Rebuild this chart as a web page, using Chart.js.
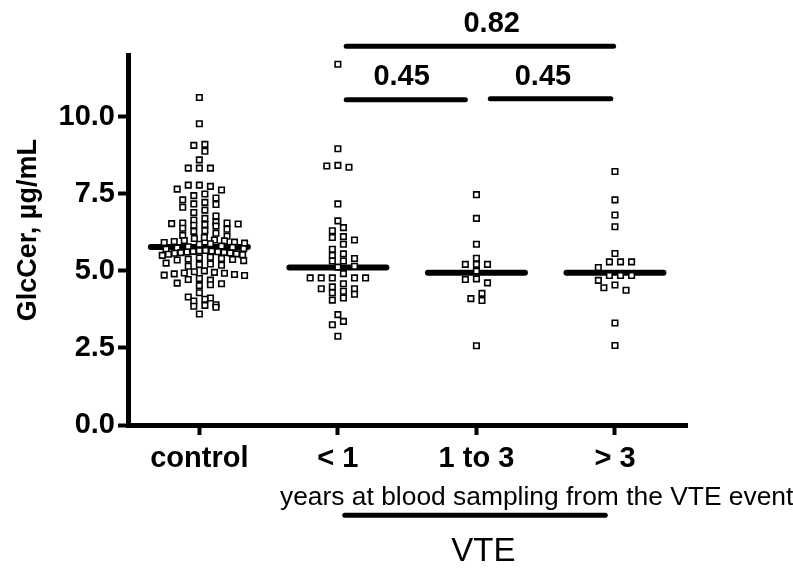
<!DOCTYPE html>
<html>
<head>
<meta charset="utf-8">
<script src="https://cdn.jsdelivr.net/npm/chart.js@4"></script>
<style>
  body { margin: 0; background: #fff; }
</style>
</head>
<body>
<canvas id="chart" width="793" height="570"></canvas>
<script>
const groups = ['control', '< 1', '1 to 3', '> 3']

// GlcCer, ug/mL per subject
const control = [
  10.62, 9.77, 9.10, 9.07, 8.88, 8.60, 8.33, 8.33, 8.33,
  7.78, 7.74, 7.78, 7.65, 7.62, 7.49, 7.44, 7.36, 7.30, 7.22, 7.17, 7.15, 7.06,
  6.97, 6.89, 6.78, 6.70, 6.65, 6.58,
  6.55, 6.52, 6.50, 6.55, 6.48, 6.53, 6.45,
  6.35, 6.30, 6.28, 6.38, 6.22,
  6.12, 6.08, 6.05, 6.15,
  5.98, 5.95, 5.92, 5.90, 5.97, 5.88, 5.93, 6.00, 5.86,
  5.80, 5.76, 5.74, 5.72, 5.78, 5.70,
  5.65, 5.62, 5.60, 5.58, 5.63, 5.55, 5.61, 5.57, 5.59, 5.64, 5.52, 5.54, 5.66, 5.50,
  5.42, 5.40, 5.38, 5.35, 5.44, 5.33, 5.37,
  5.22, 5.20, 5.18, 5.15, 5.25,
  4.95, 4.92, 4.90, 4.88, 4.85, 5.00, 4.97, 4.86, 4.93,
  4.75, 4.70, 4.72,
  4.58, 4.55, 4.60, 4.52,
  4.29, 4.12, 4.08, 4.15, 4.02,
  3.88, 3.85, 3.82, 3.90, 3.60
]
const under1 = [
  11.70, 8.96, 8.42, 8.36, 8.40, 7.17, 6.62, 6.40, 6.30, 6.08, 6.00, 6.11,
  5.86, 5.70, 5.50, 5.55, 5.40, 5.32, 5.32, 5.15, 5.12,
  4.91, 4.77, 4.77, 4.77, 4.77, 4.77, 4.58, 4.34, 4.42, 4.24, 4.42, 4.05,
  4.48, 4.12, 4.29, 3.58, 3.36, 3.25, 2.88
]
const oneTo3 = [7.47, 6.70, 5.86, 5.41, 5.21, 5.21, 5.21, 4.99, 4.74, 4.61, 4.72, 4.27, 4.10, 4.04, 2.57]
const over3 = [8.22, 7.30, 6.81, 6.43, 5.56, 5.29, 5.29, 5.29, 5.11, 4.85, 4.85, 4.85, 4.69, 4.54, 4.37, 4.45, 3.31, 2.58]
const medians = [5.77, 5.11, 4.94, 4.94]

const yTicks = [0, 2.5, 5, 7.5, 10]

// p value brackets between groups
const compFrom = [1.06, 1.06, 2.10]
const compTo = [2.99, 1.92, 2.97]
const compLevel = [12.28, 10.55, 10.58]
const compP = ['0.82', '0.45', '0.45']
const compLabelX = [2.11, 1.46, 2.48]
const compLabelY = [13.0, 11.28, 11.28]

const FONT = '"Liberation Sans", Arial, sans-serif'

// column scatter like Prism: bin into rows, spread each row, squeeze wide rows
function swarm(values, center) {
  const rowH = 0.2, step = 0.08, maxHalf = 0.29
  const sorted = [...values].sort((a, b) => b - a)
  const rows = []
  sorted.forEach(v => {
    const row = rows[rows.length - 1]
    if (row && row[0] - v < rowH) row.push(v)
    else rows.push([v])
  })
  const placed = []
  rows.forEach(row => {
    const n = row.length
    const gap = n > 1 ? Math.min(step, 2 * maxHalf / (n - 1)) : step
    // center-out slots so the row stays balanced
    const slots = row.map((v, j) => (j % 2 === 0 ? 1 : -1) * Math.ceil(j / 2))
    const lo = Math.min(...slots)
    const hi = Math.max(...slots)
    const shiftC = -(lo + hi) / 2
    let pts = row.map((v, j) => ({ x: center + (slots[j] + shiftC) * gap, y: v }))
    const clash = pts.some(p => placed.some(q => Math.abs(q.x - p.x) < gap * 0.7 && Math.abs(q.y - p.y) < rowH))
    if (clash) pts = pts.map(p => ({ x: p.x + gap / 2, y: p.y }))
    placed.push(...pts)
  })
  return placed
}

function segment(x1, x2, yv, width) {
  return {
    type: 'line',
    data: [{ x: x1, y: yv }, { x: x2, y: yv }],
    borderColor: '#000',
    borderWidth: width,
    borderCapStyle: 'round',
    pointRadius: 0,
    clip: false
  }
}

const pointSets = [control, under1, oneTo3, over3].map((vals, i) => ({
  type: 'scatter',
  data: swarm(vals, i),
  pointStyle: 'rect',
  pointRadius: 3.9,
  borderWidth: 1.6,
  borderColor: '#000',
  backgroundColor: '#fff'
}))

const medianSets = medians.map((m, i) => segment(i - 0.35, i + 0.35, m, 6))
const compSets = compP.map((p, i) => segment(compFrom[i], compTo[i], compLevel[i], 5))
const vteBar = segment(1.05, 2.93, -2.93, 5)

const annotationText = {
  id: 'annotationText',
  afterDraw(chart) {
    const { ctx, scales: { x, y } } = chart
    ctx.save()
    ctx.fillStyle = '#000'
    ctx.textAlign = 'center'
    ctx.textBaseline = 'middle'
    ctx.font = 'bold 29px ' + FONT
    compP.forEach((p, i) => {
      ctx.fillText(p, x.getPixelForValue(compLabelX[i]), y.getPixelForValue(compLabelY[i]))
    })

    ctx.font = '26.4px ' + FONT
    ctx.textAlign = 'left'
    ctx.fillText('years at blood sampling from the VTE event', x.getPixelForValue(0.582), y.getPixelForValue(-2.36))

    ctx.font = '33px ' + FONT
    ctx.textAlign = 'center'
    ctx.fillText('VTE', x.getPixelForValue(2.05), y.getPixelForValue(-4.1))

    ctx.translate(x.getPixelForValue(-1.236), y.getPixelForValue(6.32))
    ctx.rotate(-Math.PI / 2)
    ctx.font = 'bold 27px ' + FONT
    ctx.fillText('GlcCer, \u00b5g/mL', 0, 0)
    ctx.restore()
  }
}

const axisStyle = {
  grid: { drawOnChartArea: false, drawTicks: true, tickLength: 10, tickWidth: 4, tickColor: '#000' },
  border: { display: true, color: '#000', width: 5 }
}

new Chart(document.getElementById('chart'), {
  type: 'scatter',
  data: { datasets: [...pointSets, ...medianSets, ...compSets, vteBar] },
  options: {
    responsive: false,
    animation: false,
    events: [],
    layout: { padding: { top: 55, right: 106, left: 0, bottom: 0 }, autoPadding: false },
    plugins: { legend: { display: false }, tooltip: { enabled: false } },
    scales: {
      x: {
        type: 'linear',
        min: -0.515,
        max: 3.52,
        afterBuildTicks: s => { s.ticks = groups.map((g, i) => ({ value: i })) },
        afterFit: s => { s.height = 145 },
        ticks: {
          callback: v => groups[v],
          font: { family: FONT, size: 29, weight: 'bold' },
          color: '#000',
          padding: 7,
          maxRotation: 0,
          autoSkip: false
        },
        ...axisStyle
      },
      y: {
        min: 0,
        max: 12,
        afterBuildTicks: s => { s.ticks = yTicks.map(v => ({ value: v })) },
        afterFit: s => { s.width = 128 },
        ticks: {
          callback: v => v.toFixed(1),
          font: { family: FONT, size: 29, weight: 'bold' },
          color: '#000',
          padding: 3
        },
        ...axisStyle
      }
    }
  },
  plugins: [annotationText]
})
</script>
</body>
</html>
